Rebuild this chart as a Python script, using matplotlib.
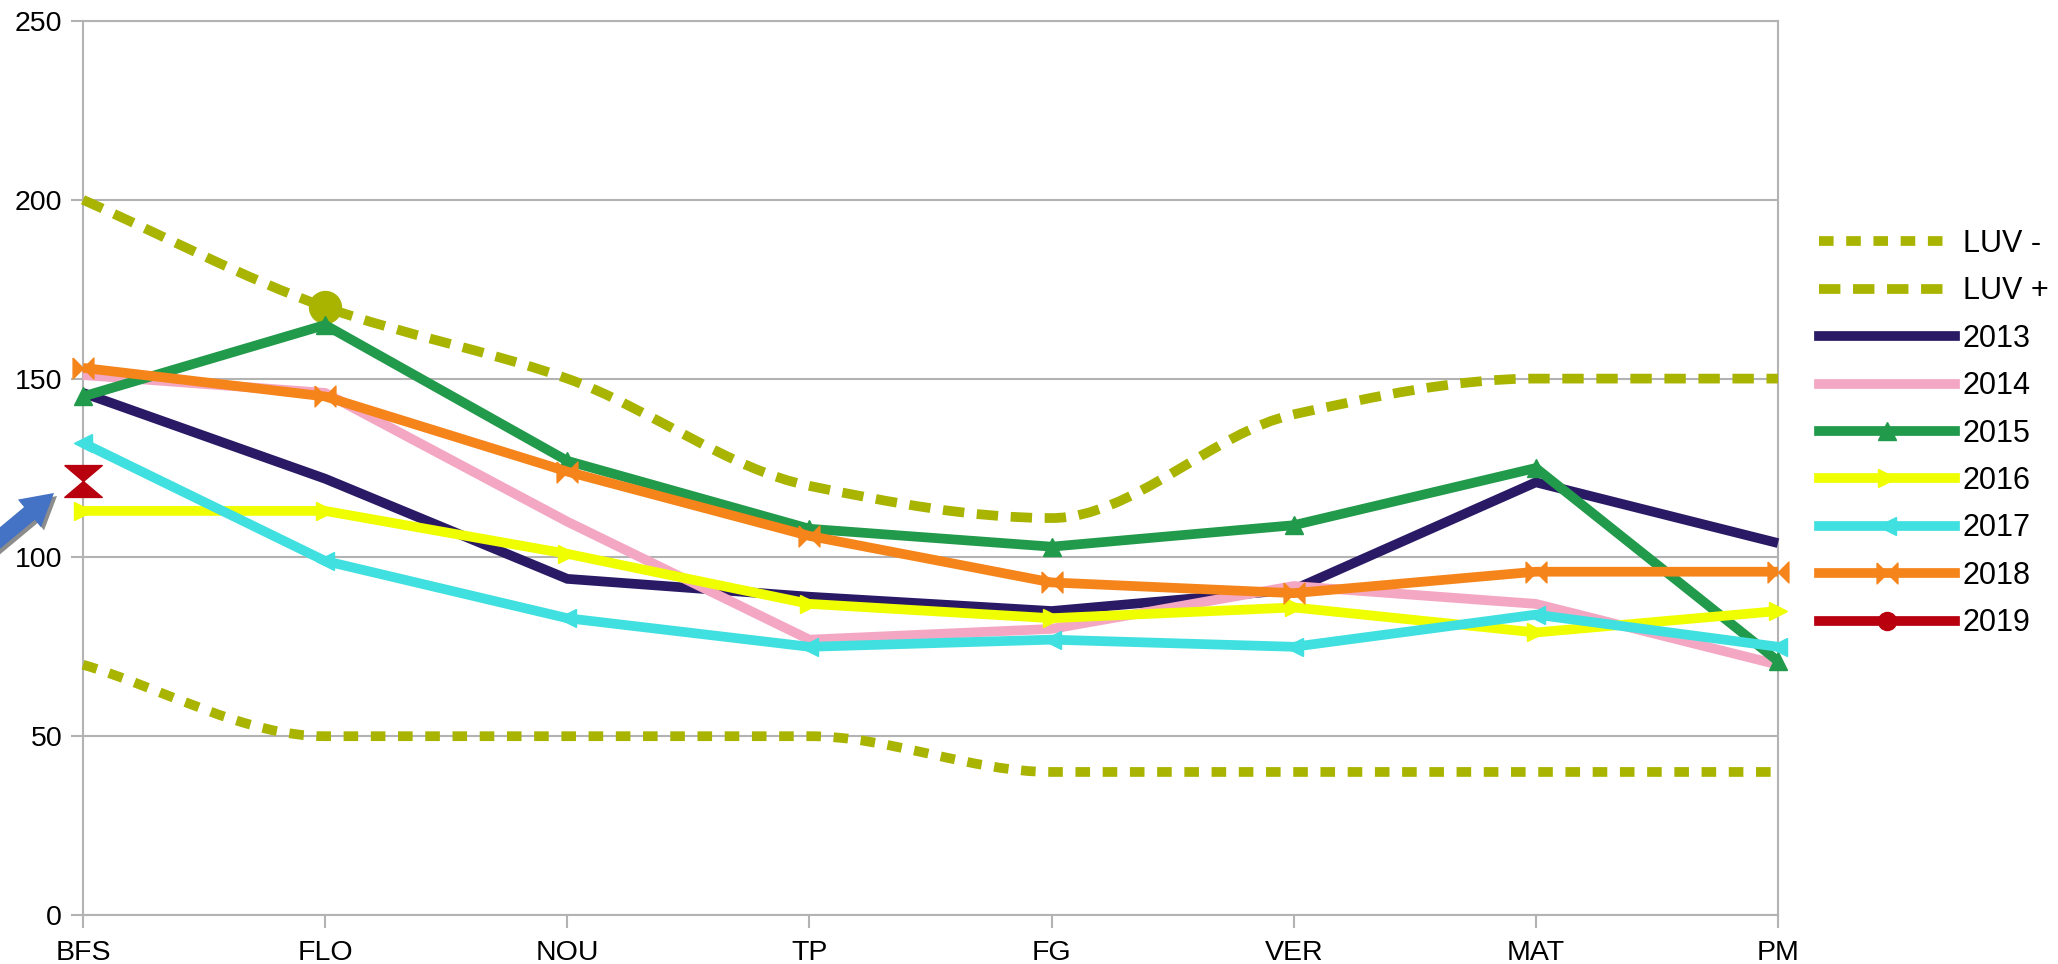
import numpy as np
import matplotlib
matplotlib.use('Agg')
import matplotlib.pyplot as plt
from matplotlib.path import Path
from matplotlib.patches import PathPatch
from matplotlib.lines import Line2D

plt.rcParams['font.family'] = ['Liberation Sans', 'DejaVu Sans']

# ---------------- data ----------------
categories = ['BFS', 'FLO', 'NOU', 'TP', 'FG', 'VER', 'MAT', 'PM']
luv_minus = [70, 50, 50, 50, 40, 40, 40, 40]
luv_plus = [200, 170, 150, 120, 111, 140, 150, 150]
luv_plus_marker_idx = [1]
y2013 = [146, 122, 94, 89, 85, 91, 121, 104]
y2014 = [151, 146, 110, 77, 80, 92, 87, 70]
y2015 = [145, 165, 127, 108, 103, 109, 125, 71]
y2016 = [113, 113, 101, 87, 83, 86, 79, 85]
y2017 = [132, 99, 83, 75, 77, 75, 84, 75]
y2018 = [153, 145, 124, 106, 93, 90, 96, 96]
y2019 = [121.5, None, None, None, None, None, None, None]
yticks = [0, 50, 100, 150, 200, 250]

# ---------------- styles ----------------
OLIVE = '#a8b400'
colors = {
    '2013': '#2a1a66', '2014': '#f4a7c3', '2015': '#229a4b', '2016': '#f0ff00',
    '2017': '#40e0e0', '2018': '#f5841a', '2019': '#b8000f',
}
bowtie_h = [(-1, 1), (0, 0), (1, 1), (1, -1), (0, 0), (-1, -1), (-1, 1)]
hourglass = [(-1, 0.85), (1, 0.85), (0, 0), (1, -0.85), (-1, -0.85), (0, 0), (-1, 0.85)]
LW = 7
TICK_FS = 20.5
LEG_FS = 22

fig = plt.figure(figsize=(20.58, 9.64), dpi=100)
ax = fig.add_axes([83 / 2058, 1 - 915 / 964, (1778 - 83) / 2058, (915 - 21) / 964])

x = np.arange(len(categories))


def smooth_path(xs, ys):
    xs = np.asarray(xs, float)
    ys = np.asarray(ys, float)
    n = len(xs)
    h = np.diff(xs)
    d = np.diff(ys) / h
    m = np.zeros(n)
    m[0] = d[0]
    m[-1] = d[-1]
    for k in range(1, n - 1):
        if d[k - 1] * d[k] <= 0:
            m[k] = 0.0
        else:
            w1 = 2 * h[k] + h[k - 1]
            w2 = h[k] + 2 * h[k - 1]
            m[k] = (w1 + w2) / (w1 / d[k - 1] + w2 / d[k])
    verts = [(xs[0], ys[0])]
    codes = [Path.MOVETO]
    for k in range(n - 1):
        verts += [(xs[k] + h[k] / 3, ys[k] + m[k] * h[k] / 3),
                  (xs[k + 1] - h[k] / 3, ys[k + 1] - m[k + 1] * h[k] / 3),
                  (xs[k + 1], ys[k + 1])]
        codes += [Path.CURVE4] * 3
    return Path(verts, codes)


dash_minus = (0, (1.5, 1.3))
dash_plus = (0, (2.2, 1.3))

for vals, ls in [(luv_minus, dash_minus), (luv_plus, dash_plus)]:
    p = PathPatch(smooth_path(x, vals), fill=False, edgecolor=OLIVE, lw=LW,
                  linestyle=ls, capstyle='butt', clip_on=False, zorder=3)
    ax.add_patch(p)

ax.plot([x[i] for i in luv_plus_marker_idx], [luv_plus[i] for i in luv_plus_marker_idx],
        'o', ms=23, color=OLIVE, zorder=3, clip_on=False)

series = [
    ('2013', y2013, None, 13),
    ('2014', y2014, None, 13),
    ('2015', y2015, '^', 13),
    ('2016', y2016, '>', 13),
    ('2017', y2017, '<', 13),
    ('2018', y2018, bowtie_h, 15),
    ('2019', y2019, hourglass, 27),
]
for name, vals, mk, ms in series:
    v = np.array([np.nan if a is None else a for a in vals], float)
    ax.plot(x, v, color=colors[name], lw=LW, marker=mk, ms=ms,
            solid_capstyle='butt', solid_joinstyle='miter', clip_on=False, zorder=4)

# axes styling
ax.set_xlim(0, len(categories) - 1)
ax.set_ylim(0, 250)
ax.set_xticks(x)
ax.set_xticklabels(categories)
ax.set_yticks(yticks)
ax.grid(axis='y', color='#b3b3b3', lw=1.5, zorder=1)
ax.set_axisbelow(True)
for s in ax.spines.values():
    s.set_color('#b3b3b3')
    s.set_linewidth(1.5)
ax.tick_params(axis='y', length=9, width=1.5, color='#b3b3b3', pad=6, labelsize=TICK_FS)
ax.tick_params(axis='x', length=9, width=1.5, color='#b3b3b3', pad=9, labelsize=TICK_FS)

# legend
handles = [
    Line2D([], [], color=OLIVE, lw=LW, linestyle=dash_minus, dash_capstyle='butt'),
    Line2D([], [], color=OLIVE, lw=LW, linestyle=dash_plus, dash_capstyle='butt'),
    Line2D([], [], color=colors['2013'], lw=LW),
    Line2D([], [], color=colors['2014'], lw=LW),
    Line2D([], [], color=colors['2015'], lw=LW, marker='^', ms=13),
    Line2D([], [], color=colors['2016'], lw=LW, marker='>', ms=13),
    Line2D([], [], color=colors['2017'], lw=LW, marker='<', ms=13),
    Line2D([], [], color=colors['2018'], lw=LW, marker=bowtie_h, ms=15),
    Line2D([], [], color=colors['2019'], lw=LW, marker='o', ms=13),
]
labels = ['LUV -', 'LUV +', '2013', '2014', '2015', '2016', '2017', '2018', '2019']
fig.legend(handles, labels, loc='upper left', bbox_to_anchor=(1819 / 2058, 1 - 229 / 964),
           frameon=False, borderpad=0, borderaxespad=0, handlelength=4.45,
           handletextpad=0.26, labelspacing=0.57, fontsize=LEG_FS)

# blue arrow pointing at the 2019 value
for off, col, z in [((3, -3), '#8c8c8c', 5), ((0, 0), '#4472c4', 6)]:
    ax.annotate('', xy=(54 + off[0], 964 - 493 + off[1]), xycoords='figure pixels',
                xytext=(-12 + off[0], 964 - 548 + off[1]), textcoords='figure pixels',
                arrowprops=dict(arrowstyle='simple,head_length=2.3,head_width=2.6,tail_width=1.2',
                                mutation_scale=10, fc=col, ec='none', shrinkA=0, shrinkB=0),
                annotation_clip=False, zorder=z)

fig.savefig('out.png', dpi=100)
